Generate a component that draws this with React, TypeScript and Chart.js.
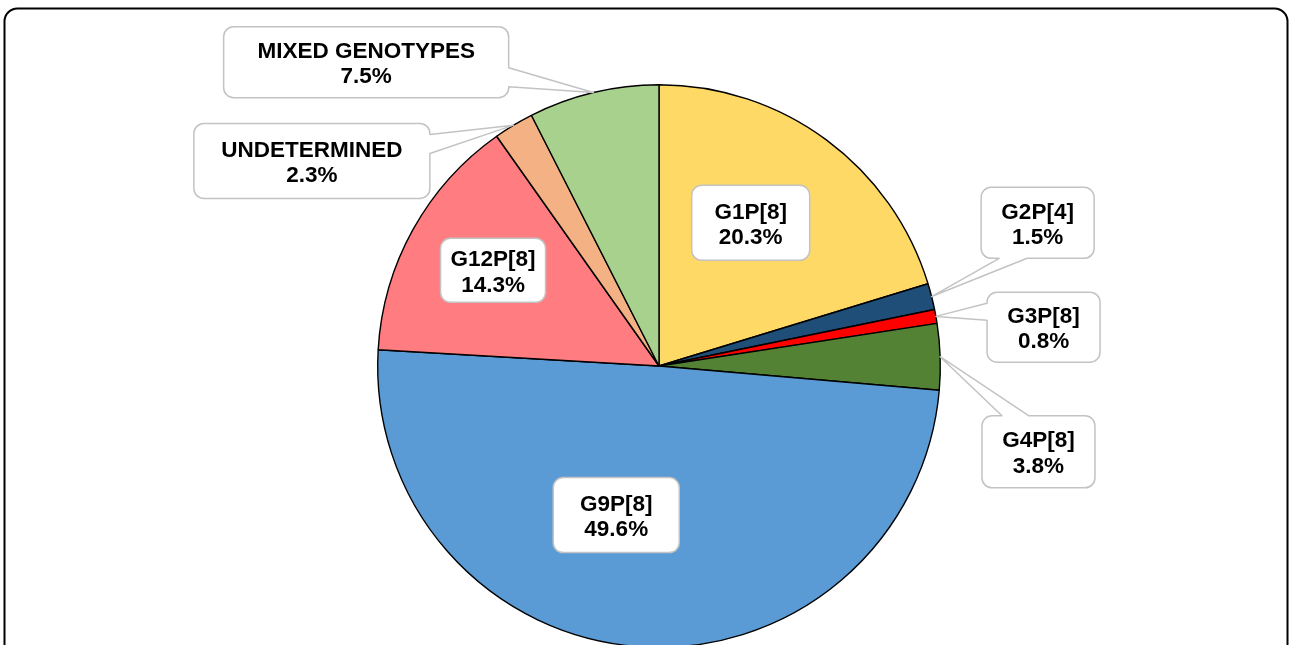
import React, { useEffect, useRef } from "react";
import { Chart, registerables } from "chart.js";

Chart.register(...registerables);

// ---- data ----
const categories = [
  "G1P[8]",
  "G2P[4]",
  "G3P[8]",
  "G4P[8]",
  "G9P[8]",
  "G12P[8]",
  "UNDETERMINED",
  "MIXED GENOTYPES",
];
const percentages = [20.3, 1.5, 0.8, 3.8, 49.6, 14.3, 2.3, 7.5];
const sliceColors = [
  "#FFD966",
  "#1F4E79",
  "#FF0000",
  "#548235",
  "#5B9BD5",
  "#FF7C80",
  "#F4B183",
  "#A9D18E",
];

// ---- label layout (box centre relative to pie centre, in radius units) ----
type Side = "none" | "left" | "right" | "top" | "bottom";
interface LabelBox {
  dx: number;
  dy: number;
  w: number;
  h: number;
  side: Side;
  a: number;
  b: number;
}
const labelBoxes: LabelBox[] = [
  { dx: 0.326, dy: -0.509, w: 118, h: 75, side: "none", a: 0, b: 0 },
  { dx: 1.346, dy: -0.509, w: 113, h: 71, side: "bottom", a: 18, b: 46 },
  { dx: 1.367, dy: -0.138, w: 113, h: 70, side: "left", a: 11, b: 28 },
  { dx: 1.349, dy: 0.305, w: 113, h: 72, side: "top", a: 20, b: 47 },
  { dx: -0.152, dy: 0.53, w: 126, h: 75, side: "none", a: 0, b: 0 },
  { dx: -0.59, dy: -0.34, w: 105, h: 64, side: "none", a: 0, b: 0 },
  { dx: -1.234, dy: -0.729, w: 236, h: 75, side: "right", a: 11, b: 30 },
  { dx: -1.041, dy: -1.08, w: 285, h: 71, side: "right", a: 41, b: 60 },
];

function calloutPath(
  ctx: CanvasRenderingContext2D,
  x: number,
  y: number,
  w: number,
  h: number,
  r: number,
  side: Side,
  a: number,
  b: number,
  tx: number,
  ty: number
) {
  ctx.beginPath();
  ctx.moveTo(x + r, y);
  if (side === "top") {
    ctx.lineTo(x + a, y);
    ctx.lineTo(tx, ty);
    ctx.lineTo(x + b, y);
  }
  ctx.lineTo(x + w - r, y);
  ctx.arcTo(x + w, y, x + w, y + r, r);
  if (side === "right") {
    ctx.lineTo(x + w, y + a);
    ctx.lineTo(tx, ty);
    ctx.lineTo(x + w, y + b);
  }
  ctx.lineTo(x + w, y + h - r);
  ctx.arcTo(x + w, y + h, x + w - r, y + h, r);
  if (side === "bottom") {
    ctx.lineTo(x + b, y + h);
    ctx.lineTo(tx, ty);
    ctx.lineTo(x + a, y + h);
  }
  ctx.lineTo(x + r, y + h);
  ctx.arcTo(x, y + h, x, y + h - r, r);
  if (side === "left") {
    ctx.lineTo(x, y + b);
    ctx.lineTo(tx, ty);
    ctx.lineTo(x, y + a);
  }
  ctx.lineTo(x, y + r);
  ctx.arcTo(x, y, x + r, y, r);
  ctx.closePath();
}

const framePlugin = {
  id: "frame",
  beforeDraw(chart: any) {
    const ctx: CanvasRenderingContext2D = chart.ctx;
    ctx.save();
    ctx.fillStyle = "#ffffff";
    ctx.fillRect(0, 0, chart.width, chart.height);
    const x = 4.5,
      y = 8.5,
      w = 1283,
      h = 720,
      r = 13;
    ctx.beginPath();
    ctx.moveTo(x + r, y);
    ctx.lineTo(x + w - r, y);
    ctx.arcTo(x + w, y, x + w, y + r, r);
    ctx.lineTo(x + w, y + h);
    ctx.lineTo(x, y + h);
    ctx.lineTo(x, y + r);
    ctx.arcTo(x, y, x + r, y, r);
    ctx.strokeStyle = "#000000";
    ctx.lineWidth = 2;
    ctx.stroke();
    ctx.restore();
  },
};

const labelPlugin = {
  id: "calloutLabels",
  afterDatasetsDraw(chart: any) {
    const ctx: CanvasRenderingContext2D = chart.ctx;
    const meta = chart.getDatasetMeta(0);
    ctx.save();
    meta.data.forEach((arc: any, i: number) => {
      const p = arc.getProps(["x", "y", "startAngle", "endAngle", "outerRadius"], true);
      const R = p.outerRadius;
      const mid = (p.startAngle + p.endAngle) / 2;
      const tx = p.x + Math.cos(mid) * R;
      const ty = p.y + Math.sin(mid) * R;
      const L = labelBoxes[i];
      const cx = p.x + L.dx * R;
      const cy = p.y + L.dy * R;
      const bx = cx - L.w / 2;
      const by = cy - L.h / 2;
      calloutPath(ctx, bx, by, L.w, L.h, 10, L.side, L.a, L.b, tx, ty);
      ctx.fillStyle = "#ffffff";
      ctx.fill();
      ctx.strokeStyle = "#c3c3c3";
      ctx.lineWidth = 1.5;
      ctx.lineJoin = "round";
      ctx.stroke();
      ctx.fillStyle = "#000000";
      ctx.font = "bold 22.5px 'Liberation Sans', Arial, Helvetica, sans-serif";
      ctx.textAlign = "center";
      ctx.textBaseline = "middle";
      ctx.fillText(categories[i], cx, cy - 10.5);
      ctx.fillText(percentages[i].toFixed(1) + "%", cx, cy + 15);
    });
    ctx.restore();
  },
};

export default function App() {
  const canvasRef = useRef<HTMLCanvasElement | null>(null);

  useEffect(() => {
    if (!canvasRef.current) return;
    const chart = new Chart(canvasRef.current, {
      type: "pie",
      data: {
        labels: categories,
        datasets: [
          {
            data: percentages,
            backgroundColor: sliceColors,
            borderColor: "#000000",
            borderWidth: 1.4,
            hoverOffset: 0,
          },
        ],
      },
      options: {
        responsive: false,
        animation: false,
        devicePixelRatio: 1,
        layout: { padding: { left: 377, right: 349, top: 84, bottom: 52 } },
        plugins: {
          legend: { display: false },
          tooltip: { enabled: false },
        },
        events: [],
      },
      plugins: [framePlugin, labelPlugin],
    });
    return () => chart.destroy();
  }, []);

  return (
    <div
      style={{
        position: "fixed",
        left: 0,
        top: 0,
        width: 1290,
        height: 645,
        overflow: "hidden",
        background: "#ffffff",
      }}
    >
      <canvas
        ref={canvasRef}
        width={1290}
        height={700}
        style={{ display: "block", width: 1290, height: 700 }}
      />
    </div>
  );
}
